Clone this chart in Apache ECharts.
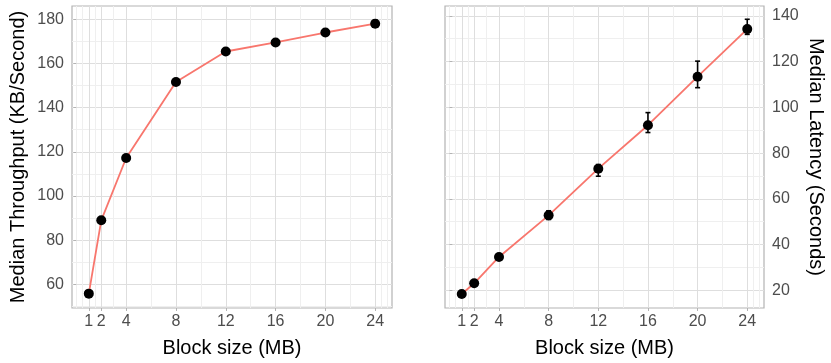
<!DOCTYPE html>
<html>
<head>
<meta charset="utf-8">
<script src="https://cdn.jsdelivr.net/npm/echarts@6/dist/echarts.min.js"></script>
<style>html,body{margin:0;padding:0;background:#fff}#c{width:831px;height:363px}</style>
</head>
<body>
<div id="c"></div>
<script>
var blockSizes = [1, 2, 4, 8, 12, 16, 20, 24];
var throughput = [55.8, 89.0, 117.2, 151.6, 165.4, 169.5, 174.0, 178.0];
var throughputLow = [55.2, 88.4, 116.6, 151.0, 164.8, 169.0, 173.5, 176.5];
var throughputHigh = [56.4, 89.6, 117.8, 152.2, 166.0, 170.0, 174.5, 179.6];
var latency = [18.4, 23.1, 34.6, 52.8, 73.2, 92.2, 113.4, 134.2];
var latencyLow = [17.8, 22.4, 33.6, 51.0, 69.9, 89.0, 108.6, 131.9];
var latencyHigh = [19.0, 23.8, 35.4, 54.8, 75.0, 97.7, 120.2, 138.5];

var xTicks = [1, 2, 4, 8, 12, 16, 20, 24];
var xMinor = [0, 0.5, 1.5, 3, 6, 10, 14, 18, 22, 24.5, 25];
var leftYTicks = [60, 80, 100, 120, 140, 160, 180];
var leftYMinor = [50, 70, 90, 110, 130, 150, 170];
var rightYTicks = [20, 40, 60, 80, 100, 120, 140];
var rightYMinor = [30, 50, 70, 90, 110, 130];

var xTitle = 'Block size (MB)';
var leftTitle = 'Median Throughput (KB/Second)';
var rightTitle = 'Median Latency (Seconds)';

var FONT = 'Liberation Sans, Arial, sans-serif';
var XMIN = -0.35, XMAX = 25.35;
var LYMIN = 49.3, LYMAX = 186;
var RYMIN = 12.3, RYMAX = 144.3;

function minorX(gi) {
  return {
    type: 'value', gridIndex: gi, position: 'bottom', min: XMIN, max: XMAX,
    axisLine: {show: false}, axisLabel: {show: false},
    axisTick: {show: false, customValues: xMinor},
    splitLine: {show: true, lineStyle: {color: '#EFEFEF', width: 1}}
  };
}
function majorX(gi) {
  return {
    type: 'value', gridIndex: gi, position: 'bottom', min: XMIN, max: XMAX,
    name: xTitle, nameLocation: 'middle', nameGap: 30,
    nameTextStyle: {fontFamily: FONT, fontSize: 20, color: '#000'},
    axisLine: {show: false},
    axisTick: {show: true, inside: false, length: 3, customValues: xTicks, lineStyle: {color: '#B3B3B3', width: 1}},
    axisLabel: {customValues: xTicks, fontFamily: FONT, fontSize: 16, color: '#4D4D4D', margin: 6},
    splitLine: {show: true, lineStyle: {color: '#DEDEDE', width: 1}}
  };
}
function minorY(gi, pos, mn, mx, vals) {
  return {
    type: 'value', gridIndex: gi, position: pos, min: mn, max: mx,
    axisLine: {show: false}, axisLabel: {show: false},
    axisTick: {show: false, customValues: vals},
    splitLine: {show: true, lineStyle: {color: '#EFEFEF', width: 1}}
  };
}
function majorY(gi, pos, mn, mx, vals, title, rot, gap) {
  return {
    type: 'value', gridIndex: gi, position: pos, min: mn, max: mx,
    name: title, nameLocation: 'middle', nameGap: gap, nameRotate: rot,
    nameTextStyle: {fontFamily: FONT, fontSize: 20, color: '#000'},
    axisLine: {show: false},
    axisTick: {show: true, length: 3, customValues: vals, lineStyle: {color: '#B3B3B3', width: 1}},
    axisLabel: {customValues: vals, fontFamily: FONT, fontSize: 16, color: '#4D4D4D', margin: 8},
    splitLine: {show: true, lineStyle: {color: '#DEDEDE', width: 1}}
  };
}

function pairs(xs, ys) { return xs.map(function (x, i) { return [x, ys[i]]; }); }
function errData(xs, lo, hi) { return xs.map(function (x, i) { return [x, lo[i], hi[i]]; }); }

function errRender(params, api) {
  var x = api.value(0), lo = api.value(1), hi = api.value(2);
  var pLo = api.coord([x, lo]), pHi = api.coord([x, hi]);
  var hw = 2.5;
  var st = {stroke: '#000', lineWidth: 1.6};
  return {
    type: 'group',
    children: [
      {type: 'line', shape: {x1: pLo[0], y1: pLo[1], x2: pHi[0], y2: pHi[1]}, style: st},
      {type: 'line', shape: {x1: pLo[0] - hw, y1: pLo[1], x2: pLo[0] + hw, y2: pLo[1]}, style: st},
      {type: 'line', shape: {x1: pHi[0] - hw, y1: pHi[1], x2: pHi[0] + hw, y2: pHi[1]}, style: st}
    ]
  };
}

var chart = echarts.init(document.getElementById('c'), null, {renderer: 'canvas'});
chart.setOption({
  animation: false,
  backgroundColor: '#fff',
  grid: [
    {left: 72, right: 439, top: 6, bottom: 50, show: true, borderColor: '#B3B3B3', borderWidth: 1.2, backgroundColor: 'transparent'},
    {left: 445, right: 67, top: 6, bottom: 50, show: true, borderColor: '#B3B3B3', borderWidth: 1.2, backgroundColor: 'transparent'}
  ],
  xAxis: [minorX(0), majorX(0), minorX(1), majorX(1)],
  yAxis: [
    minorY(0, 'left', LYMIN, LYMAX, leftYMinor),
    majorY(0, 'left', LYMIN, LYMAX, leftYTicks, leftTitle, 90, 44),
    minorY(1, 'right', RYMIN, RYMAX, rightYMinor),
    majorY(1, 'right', RYMIN, RYMAX, rightYTicks, rightTitle, -90, 42)
  ],
  series: [
    {type: 'line', xAxisIndex: 1, yAxisIndex: 1, data: pairs(blockSizes, throughput), symbol: 'none',
      lineStyle: {color: '#F8766D', width: 1.8}, z: 2},
    {type: 'custom', xAxisIndex: 1, yAxisIndex: 1, data: errData(blockSizes, throughputLow, throughputHigh), renderItem: errRender, z: 3},
    {type: 'scatter', xAxisIndex: 1, yAxisIndex: 1, data: pairs(blockSizes, throughput), symbolSize: 10,
      itemStyle: {color: '#000', opacity: 1}, z: 4},
    {type: 'line', xAxisIndex: 3, yAxisIndex: 3, data: pairs(blockSizes, latency), symbol: 'none',
      lineStyle: {color: '#F8766D', width: 1.8}, z: 2},
    {type: 'custom', xAxisIndex: 3, yAxisIndex: 3, data: errData(blockSizes, latencyLow, latencyHigh), renderItem: errRender, z: 3},
    {type: 'scatter', xAxisIndex: 3, yAxisIndex: 3, data: pairs(blockSizes, latency), symbolSize: 10,
      itemStyle: {color: '#000', opacity: 1}, z: 4}
  ]
});
</script>
</body>
</html>
